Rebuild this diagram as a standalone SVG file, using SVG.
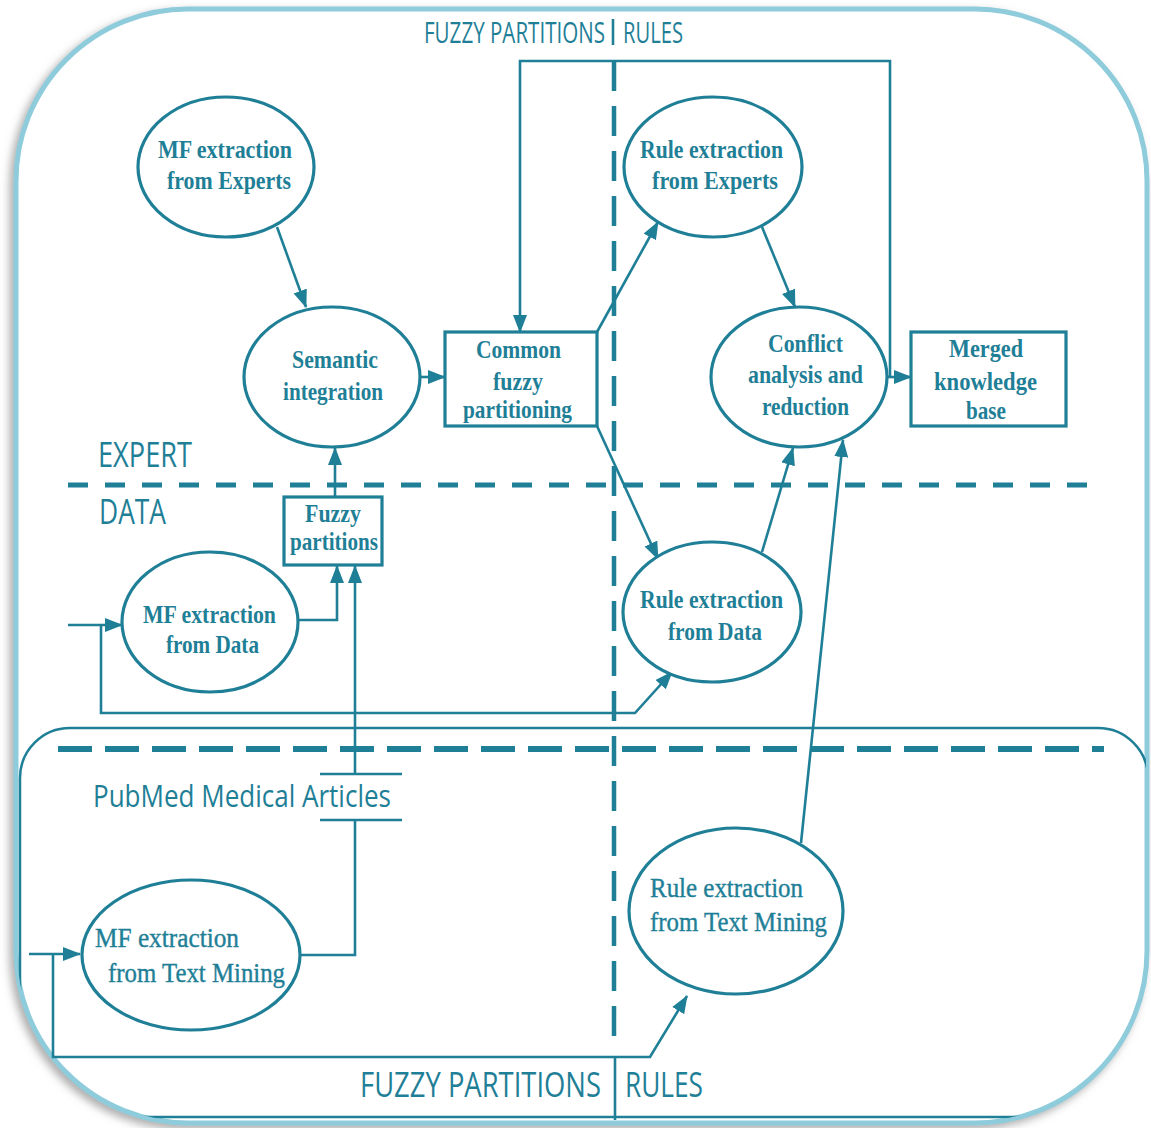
<svg xmlns="http://www.w3.org/2000/svg" width="1151" height="1128" viewBox="0 0 1151 1128">
<style>
.ln{fill:none;stroke:#1f7f97;stroke-width:2.6;stroke-linejoin:miter}
.nd{fill:#fff;stroke:#1f7f97;stroke-width:3.2}
.st{font-family:"Liberation Serif","Times New Roman",serif;font-weight:bold;font-size:25px;fill:#1f7f97}
.sr{font-family:"Liberation Serif","Times New Roman",serif;font-size:27px;fill:#1f7f97;stroke:#1f7f97;stroke-width:0.4}
.ss{font-family:"Open Sans","DejaVu Sans",sans-serif;fill:#1f7f97}
.dash{fill:none;stroke:#1f7f97}
</style>
<defs>
<marker id="arr" markerUnits="userSpaceOnUse" markerWidth="20" markerHeight="16" refX="17" refY="7" orient="auto">
<path d="M0,0 L18,7 L0,14 z" fill="#1f7f97"/>
</marker>
<filter id="sh" x="-5%" y="-5%" width="110%" height="110%">
<feDropShadow dx="-4" dy="4" stdDeviation="4" flood-color="#777" flood-opacity="0.6"/>
</filter>
<clipPath id="frameClip">
<rect x="17" y="10" width="1129" height="1111" rx="170" ry="170"/>
</clipPath>
</defs>
<rect width="1151" height="1128" fill="#fff"/>
<g id="frame">
<rect x="16" y="9" width="1131" height="1114" rx="172" ry="172" fill="#fff" stroke="#8ecbdb" stroke-width="5" filter="url(#sh)"/>
</g>
<g id="pubmed-region" clip-path="url(#frameClip)">
<rect x="20" y="728" width="1128" height="389" rx="50" ry="50" fill="none" stroke="#1f7f97" stroke-width="2.5"/>
</g>
<g id="separators">
<path class="dash" d="M614 61 V1042" stroke-width="4.5" stroke-dasharray="30 15"/>
<path class="dash" d="M68 485 H1095" stroke-width="5" stroke-dasharray="20 17"/>
<path class="dash" d="M58 749 H1104" stroke-width="6" stroke-dasharray="34 13"/>
<path class="ln" d="M613 19 V45" stroke-width="3.5"/>
<path class="ln" d="M615 1057 V1120" stroke-width="3.5"/>
</g>
<g id="labels">
<text class="ss" transform="translate(424 43) scale(1 1.49)" font-size="19.5" textLength="181" lengthAdjust="spacingAndGlyphs">FUZZY PARTITIONS</text>
<text class="ss" transform="translate(623 43) scale(1 1.49)" font-size="19.5" textLength="60" lengthAdjust="spacingAndGlyphs">RULES</text>
<text class="ss" transform="translate(360 1097) scale(1 1.4)" font-size="25" textLength="241" lengthAdjust="spacingAndGlyphs">FUZZY PARTITIONS</text>
<text class="ss" transform="translate(625 1097) scale(1 1.4)" font-size="25" textLength="78" lengthAdjust="spacingAndGlyphs">RULES</text>
<text class="ss" x="98" y="467" font-size="35" textLength="94" lengthAdjust="spacingAndGlyphs">EXPERT</text>
<text class="ss" x="99" y="524" font-size="34" textLength="67" lengthAdjust="spacingAndGlyphs">DATA</text>
<text class="ss" x="93" y="807" font-size="31" textLength="298" lengthAdjust="spacingAndGlyphs">PubMed Medical Articles</text>
</g>
<g id="connectors">
<path class="ln" d="M277 227 L306 307" marker-end="url(#arr)"/>
<path class="ln" d="M420 377 H445" marker-end="url(#arr)"/>
<path class="ln" d="M335 497 V448" marker-end="url(#arr)"/>
<path class="ln" d="M298 620 H337 V566" marker-end="url(#arr)"/>
<path class="ln" d="M300 955 H355 V820"/>
<path class="ln" d="M320 774 H402 M320 820 H402"/>
<path class="ln" d="M355 774 V566" marker-end="url(#arr)"/>
<path class="ln" d="M68 625 H122" marker-end="url(#arr)"/>
<path class="ln" d="M101 625 V713 H635 L672 672" marker-end="url(#arr)"/>
<path class="ln" d="M29 954 H80" marker-end="url(#arr)"/>
<path class="ln" d="M53 954 V1057 H650 L687 996" marker-end="url(#arr)"/>
<path class="ln" d="M597 332 L658 222" marker-end="url(#arr)"/>
<path class="ln" d="M597 426 L658 559" marker-end="url(#arr)"/>
<path class="ln" d="M762 227 L795 307" marker-end="url(#arr)"/>
<path class="ln" d="M762 552 L793 448" marker-end="url(#arr)"/>
<path class="ln" d="M801 843 L843 440" marker-end="url(#arr)"/>
<path class="ln" d="M887 377 H911" marker-end="url(#arr)"/>
<path class="ln" d="M890 377 V61 H520 V332" marker-end="url(#arr)"/>
</g>
<g id="mf-experts">
<ellipse class="nd" cx="226" cy="167" rx="88" ry="70"/>
<text class="st" x="158" y="158" textLength="134" lengthAdjust="spacingAndGlyphs">MF extraction</text>
<text class="st" x="167" y="189" textLength="124" lengthAdjust="spacingAndGlyphs">from Experts</text>
</g>
<g id="semantic-integration">
<ellipse class="nd" cx="332" cy="377" rx="88" ry="70"/>
<text class="st" x="292" y="368" textLength="86" lengthAdjust="spacingAndGlyphs">Semantic</text>
<text class="st" x="283" y="400" textLength="100" lengthAdjust="spacingAndGlyphs">integration</text>
</g>
<g id="common-fuzzy-partitioning">
<rect class="nd" x="445" y="332" width="152" height="94"/>
<text class="st" x="476" y="358" textLength="85" lengthAdjust="spacingAndGlyphs">Common</text>
<text class="st" x="493" y="390" textLength="50" lengthAdjust="spacingAndGlyphs">fuzzy</text>
<text class="st" x="463" y="418" textLength="109" lengthAdjust="spacingAndGlyphs">partitioning</text>
</g>
<g id="rule-experts">
<ellipse class="nd" cx="713" cy="167" rx="89" ry="70"/>
<text class="st" x="640" y="158" textLength="143" lengthAdjust="spacingAndGlyphs">Rule extraction</text>
<text class="st" x="652" y="189" textLength="126" lengthAdjust="spacingAndGlyphs">from Experts</text>
</g>
<g id="conflict-analysis">
<ellipse class="nd" cx="799" cy="377" rx="88" ry="70"/>
<text class="st" x="768" y="352" textLength="75" lengthAdjust="spacingAndGlyphs">Conflict</text>
<text class="st" x="748" y="383" textLength="115" lengthAdjust="spacingAndGlyphs">analysis and</text>
<text class="st" x="762" y="415" textLength="87" lengthAdjust="spacingAndGlyphs">reduction</text>
</g>
<g id="merged-kb">
<rect class="nd" x="911" y="332" width="155" height="94"/>
<text class="st" x="949" y="357" textLength="74" lengthAdjust="spacingAndGlyphs">Merged</text>
<text class="st" x="934" y="390" textLength="103" lengthAdjust="spacingAndGlyphs">knowledge</text>
<text class="st" x="966" y="419" textLength="40" lengthAdjust="spacingAndGlyphs">base</text>
</g>
<g id="fuzzy-partitions">
<rect class="nd" x="284" y="497" width="98" height="68"/>
<text class="st" x="305" y="522" textLength="56" lengthAdjust="spacingAndGlyphs">Fuzzy</text>
<text class="st" x="290" y="550" textLength="88" lengthAdjust="spacingAndGlyphs">partitions</text>
</g>
<g id="mf-data">
<ellipse class="nd" cx="210" cy="622" rx="88" ry="70"/>
<text class="st" x="143" y="623" textLength="133" lengthAdjust="spacingAndGlyphs">MF extraction</text>
<text class="st" x="166" y="653" textLength="93" lengthAdjust="spacingAndGlyphs">from Data</text>
</g>
<g id="rule-data">
<ellipse class="nd" cx="712" cy="612" rx="89" ry="70"/>
<text class="st" x="640" y="608" textLength="143" lengthAdjust="spacingAndGlyphs">Rule extraction</text>
<text class="st" x="668" y="640" textLength="94" lengthAdjust="spacingAndGlyphs">from Data</text>
</g>
<g id="mf-text-mining">
<ellipse class="nd" cx="191" cy="955" rx="109" ry="75"/>
<text class="sr" x="95" y="947" textLength="144" lengthAdjust="spacingAndGlyphs">MF extraction</text>
<text class="sr" x="108" y="982" textLength="177" lengthAdjust="spacingAndGlyphs">from Text Mining</text>
</g>
<g id="rule-text-mining">
<ellipse class="nd" cx="736" cy="911" rx="107" ry="83"/>
<text class="sr" x="650" y="897" textLength="153" lengthAdjust="spacingAndGlyphs">Rule extraction</text>
<text class="sr" x="650" y="931" textLength="177" lengthAdjust="spacingAndGlyphs">from Text Mining</text>
</g>
</svg>
